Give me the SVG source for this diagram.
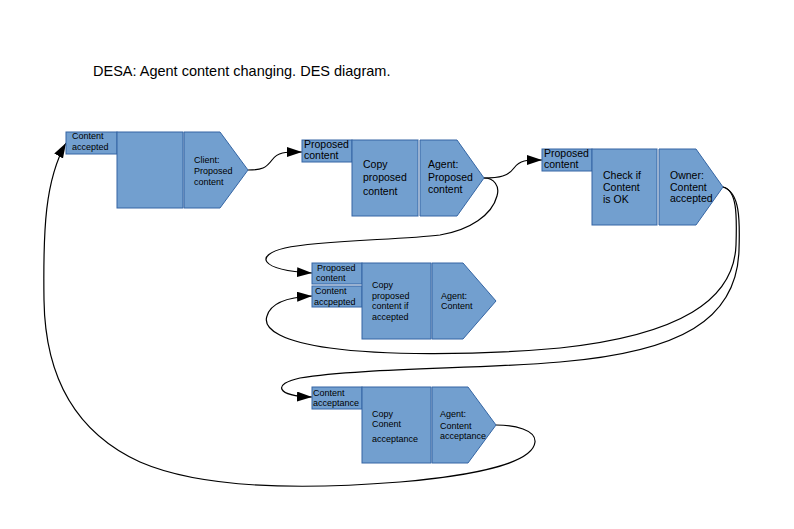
<svg xmlns="http://www.w3.org/2000/svg" width="794" height="529" viewBox="0 0 794 529">
<style>
.box{fill:#729fcf;stroke:#3465a4;stroke-width:1}
.t{font-family:"Liberation Sans",Arial,sans-serif;fill:#000}
.s{font-size:9px}
.m{font-size:10.5px}
.c{fill:none;stroke:#000;stroke-width:1.2}
</style>
<defs>
<marker id="arr" markerUnits="userSpaceOnUse" markerWidth="16" markerHeight="11" refX="15" refY="5" orient="auto">
<path d="M0,0 L15,5 L0,10 z" fill="#000"/>
</marker>
</defs>
<rect width="794" height="529" fill="#fff"/>
<text class="t" x="93" y="76" font-size="14.5">DESA: Agent content changing. DES diagram.</text>

<g id="connectors">
<path class="c" marker-end="url(#arr)" d="M248,170 C262,170 266,168 272,160 C278,152 284,152 302,152"/>
<path class="c" marker-end="url(#arr)" d="M484,178 C500,178 508,176 514,168 C520,160 526,160 542,160"/>
<path class="c" marker-end="url(#arr)" d="M484,178 C494,178 500,186 497,196 C492,215 470,230 440,235 C400,240 320,240 285,248 C255,255 258,270 312,273"/>
<path class="c" marker-end="url(#arr)" d="M723,187 C737,190 737,215 736,245 C734,300 680,335 560,348 C470,356 380,355 330,348 C285,342 262,330 267,316 C271,302 290,297 312,296"/>
<path class="c" marker-end="url(#arr)" d="M723,187 C740,192 740,220 739,250 C737,320 680,352 560,362 C480,369 360,368 300,378 C272,384 276,396 312,397"/>
<path class="c" marker-end="url(#arr)" d="M496,425 C515,425 536,430 535,442 C533,462 480,475 400,482 C300,490 200,488 140,462 C70,430 45,370 44,300 C43,230 45,180 66,143"/>
</g>

<g id="node1">
<rect class="box" x="66" y="132" width="51" height="22"/>
<rect class="box" x="117" y="132" width="66" height="76"/>
<polygon class="box" points="184,132 220,132 248,170 220,208 184,208"/>
<text class="t s" x="72" y="139">Content</text>
<text class="t s" x="72" y="150">accepted</text>
<text class="t s" x="194" y="163">Client:</text>
<text class="t s" x="194" y="174">Proposed</text>
<text class="t s" x="194" y="185">content</text>
</g>

<g id="node2">
<rect class="box" x="302" y="140" width="50" height="22"/>
<rect class="box" x="352" y="140" width="66" height="76"/>
<polygon class="box" points="420,140 457,140 484,178 457,216 420,216"/>
<text class="t m" x="304" y="148">Proposed</text>
<text class="t m" x="304" y="159">content</text>
<text class="t m" x="363" y="168">Copy</text>
<text class="t m" x="363" y="181">proposed</text>
<text class="t m" x="363" y="195">content</text>
<text class="t m" x="428" y="168">Agent:</text>
<text class="t m" x="428" y="181">Proposed</text>
<text class="t m" x="428" y="193">content</text>
</g>

<g id="node3">
<rect class="box" x="542" y="149" width="50" height="22"/>
<rect class="box" x="592" y="149" width="65" height="76"/>
<polygon class="box" points="659,149 696,149 723,187 696,225 659,225"/>
<text class="t m" x="544" y="157">Proposed</text>
<text class="t m" x="544" y="168">content</text>
<text class="t m" x="603" y="179">Check if</text>
<text class="t m" x="603" y="191">Content</text>
<text class="t m" x="603" y="203">is OK</text>
<text class="t m" x="670" y="179">Owner:</text>
<text class="t m" x="670" y="191">Content</text>
<text class="t m" x="670" y="202">accepted</text>
</g>

<g id="node4">
<rect class="box" x="312" y="263" width="50" height="21"/>
<rect class="box" x="312" y="286" width="50" height="21"/>
<rect class="box" x="362" y="263" width="69" height="76"/>
<polygon class="box" points="432,263 463,263 496,301 463,339 432,339"/>
<text class="t s" x="317" y="271">Proposed</text>
<text class="t s" x="316" y="281">content</text>
<text class="t s" x="315" y="294">Content</text>
<text class="t s" x="314" y="305">accpepted</text>
<text class="t s" x="372" y="288">Copy</text>
<text class="t s" x="372" y="299">proposed</text>
<text class="t s" x="372" y="309">content if</text>
<text class="t s" x="372" y="320">accepted</text>
<text class="t s" x="441" y="299">Agent:</text>
<text class="t s" x="441" y="309">Content</text>
</g>

<g id="node5">
<rect class="box" x="312" y="387" width="50" height="22"/>
<rect class="box" x="362" y="387" width="69" height="76"/>
<polygon class="box" points="432,387 468,387 496,425 468,463 432,463"/>
<text class="t s" x="313" y="396">Content</text>
<text class="t s" x="313" y="406">acceptance</text>
<text class="t s" x="372" y="417">Copy</text>
<text class="t s" x="372" y="427">Conent</text>
<text class="t s" x="372" y="442">acceptance</text>
<text class="t s" x="440" y="417">Agent:</text>
<text class="t s" x="440" y="429">Content</text>
<text class="t s" x="440" y="439">acceptance</text>
</g>
</svg>
